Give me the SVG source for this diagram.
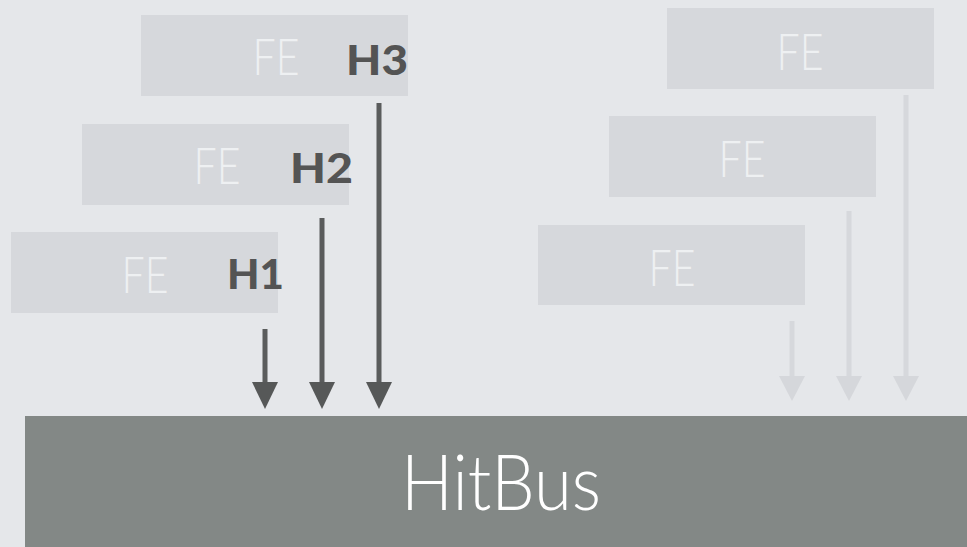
<svg xmlns="http://www.w3.org/2000/svg" width="967" height="547" viewBox="0 0 967 547">
  <defs>
    <!-- arrowheads drawn along +x; the line ends at the base of the head -->
    <marker id="headDark" markerUnits="userSpaceOnUse" markerWidth="28" markerHeight="26" refX="0" refY="13" orient="auto" viewBox="0 0 28 26">
      <path d="M0,0 L27,13 L0,26 Z" fill="#565858"/>
    </marker>
    <marker id="headLight" markerUnits="userSpaceOnUse" markerWidth="26" markerHeight="26" refX="0" refY="13" orient="auto" viewBox="0 0 26 26">
      <path d="M0,0 L25,13 L0,26 Z" fill="#d5d7db"/>
    </marker>
  </defs>
  <style>
    .bg { fill: #e5e7ea; }
    .fe { fill: #d6d8dc; }
    .feText { font-family: "Lato", "Open Sans", sans-serif; font-weight: 300; font-size: 51px; fill: #eef0f2; text-anchor: middle; }
    .hText { font-family: "Lato", "Open Sans", sans-serif; font-weight: 900; font-size: 41px; fill: #545454; }
    .dark { stroke: #5a5c5c; stroke-width: 5; fill: none; }
    .light { stroke: #d6d8dc; stroke-width: 5; fill: none; }
    .bus { fill: #838886; }
    .busText { font-family: "Lato", "Open Sans", sans-serif; font-weight: 300; font-size: 76px; fill: #ffffff; text-anchor: middle; }
  </style>

  <rect class="bg" x="0" y="0" width="967" height="547"/>

  <!-- front-end chips, left column (highlighted hits) -->
  <g id="fe-h3">
    <rect class="fe" x="141" y="15" width="267" height="81"/>
    <text class="feText" x="276" y="75" textLength="47" lengthAdjust="spacingAndGlyphs">FE</text>
    <text class="hText" x="346" y="75" textLength="62" lengthAdjust="spacingAndGlyphs">H3</text>
  </g>
  <g id="fe-h2">
    <rect class="fe" x="82" y="124" width="267" height="81"/>
    <text class="feText" x="217" y="184" textLength="47" lengthAdjust="spacingAndGlyphs">FE</text>
    <text class="hText" x="290" y="183" textLength="63" lengthAdjust="spacingAndGlyphs">H2</text>
  </g>
  <g id="fe-h1">
    <rect class="fe" x="11" y="232" width="267" height="81"/>
    <text class="feText" x="145" y="293" textLength="47" lengthAdjust="spacingAndGlyphs">FE</text>
    <text class="hText" x="227" y="289" textLength="57" lengthAdjust="spacingAndGlyphs">H1</text>
  </g>

  <!-- front-end chips, right column (no hits) -->
  <g id="fe-r3">
    <rect class="fe" x="667" y="8" width="267" height="81"/>
    <text class="feText" x="800" y="70" textLength="47" lengthAdjust="spacingAndGlyphs">FE</text>
  </g>
  <g id="fe-r2">
    <rect class="fe" x="609" y="116" width="267" height="81"/>
    <text class="feText" x="742" y="177" textLength="47" lengthAdjust="spacingAndGlyphs">FE</text>
  </g>
  <g id="fe-r1">
    <rect class="fe" x="538" y="225" width="267" height="80"/>
    <text class="feText" x="672" y="286" textLength="47" lengthAdjust="spacingAndGlyphs">FE</text>
  </g>

  <!-- hit lines into the bus -->
  <g id="connectors">
    <line class="dark" x1="265" y1="329" x2="265" y2="382" marker-end="url(#headDark)"/>
    <line class="dark" x1="322" y1="218" x2="322" y2="382" marker-end="url(#headDark)"/>
    <line class="dark" x1="379" y1="103" x2="379" y2="382" marker-end="url(#headDark)"/>
    <line class="light" x1="792" y1="321" x2="792" y2="376" marker-end="url(#headLight)"/>
    <line class="light" x1="849" y1="211" x2="849" y2="376" marker-end="url(#headLight)"/>
    <line class="light" x1="906" y1="95" x2="906" y2="376" marker-end="url(#headLight)"/>
  </g>

  <g id="hitbus">
    <rect class="bus" x="25" y="416" width="942" height="131"/>
    <text class="busText" x="501" y="510" textLength="200" lengthAdjust="spacingAndGlyphs">HitBus</text>
  </g>
</svg>
